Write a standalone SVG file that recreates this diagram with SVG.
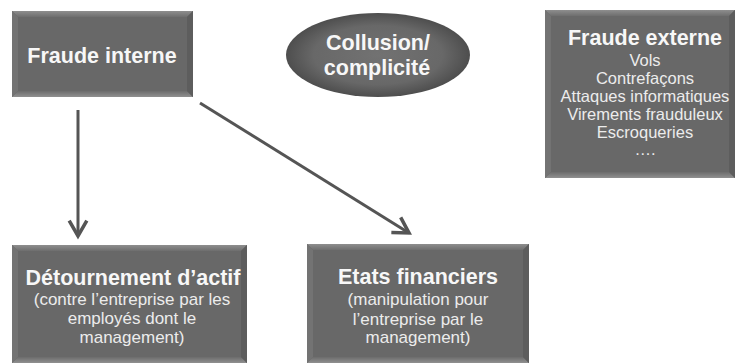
<svg xmlns="http://www.w3.org/2000/svg" width="736" height="363" viewBox="0 0 736 363">
<style>
.base{fill:#686868}
.bl{fill:#737373}
.br{fill:#5d5d5d}
.t{font-family:"Liberation Sans",Arial,sans-serif;text-anchor:middle}
.ti{font-weight:bold;font-size:21.5px;fill:#f7f7f7}
.s{font-size:17px;fill:#ececec}
.s2{font-size:16.5px;fill:#ececec}
.conn{stroke:#555;stroke-width:3;fill:none}
</style>
<defs>
<linearGradient id="gTop" x1="0" y1="0" x2="0" y2="1">
<stop offset="0" stop-color="#8e8e8e"/><stop offset="1" stop-color="#6e6e6e"/>
</linearGradient>
<linearGradient id="gBot" x1="0" y1="0" x2="0" y2="1">
<stop offset="0" stop-color="#6c6c6c"/><stop offset="1" stop-color="#909090"/>
</linearGradient>
<radialGradient id="gEll" cx="0.5" cy="0.5" r="0.5">
<stop offset="0" stop-color="#727272"/><stop offset="0.7" stop-color="#686868"/><stop offset="1" stop-color="#4e4e4e"/>
</radialGradient>
<marker id="arr" markerUnits="userSpaceOnUse" markerWidth="20" markerHeight="20" viewBox="0 0 16 17" refX="14" refY="8.5" orient="auto" overflow="visible">
<path d="M1,1 L14,8.5 L1,16" fill="none" stroke="#555" stroke-width="3" stroke-linejoin="miter"/>
</marker>
</defs>
<rect width="736" height="363" fill="#ffffff"/>

<g id="fraude-interne">
<rect class="base" x="12" y="11" width="181" height="86"/>
<polygon fill="url(#gTop)" points="12,11 193,11 187,17 18,17"/>
<polygon fill="url(#gBot)" points="18,91 187,91 193,97 12,97"/>
<polygon class="bl" points="12,11 18,17 18,91 12,97"/>
<polygon class="br" points="193,11 187,17 187,91 193,97"/>
<text class="t ti" x="102" y="63">Fraude interne</text>
</g>

<g id="collusion">
<ellipse cx="378" cy="55" rx="92" ry="42" fill="url(#gEll)"/>
<text class="t ti" x="378" y="50">Collusion/</text>
<text class="t ti" x="377" y="75">complicité</text>
</g>

<g id="fraude-externe">
<rect class="base" x="545" y="10" width="190" height="168"/>
<polygon fill="url(#gTop)" points="545,10 735,10 729,16 551,16"/>
<polygon fill="url(#gBot)" points="551,172 729,172 735,178 545,178"/>
<polygon class="bl" points="545,10 551,16 551,172 545,178"/>
<polygon class="br" points="735,10 729,16 729,172 735,178"/>
<text class="t ti" x="645" y="45">Fraude externe</text>
<text class="t s2" x="645" y="66">Vols</text>
<text class="t s2" x="645" y="84">Contrefaçons</text>
<text class="t s2" x="645" y="102">Attaques informatiques</text>
<text class="t s2" x="645" y="120">Virements frauduleux</text>
<text class="t s2" x="645" y="138">Escroqueries</text>
<text class="t s2" x="645" y="155">….</text>
</g>

<g id="detournement">
<rect class="base" x="12" y="245" width="235" height="118"/>
<polygon fill="url(#gTop)" points="12,245 247,245 241,251 18,251"/>
<polygon fill="url(#gBot)" points="18,357 241,357 247,363 12,363"/>
<polygon class="bl" points="12,245 18,251 18,357 12,363"/>
<polygon class="br" points="247,245 241,251 241,357 247,363"/>
<text class="t ti" x="133" y="285">Détournement d’actif</text>
<text class="t s" x="132" y="305">(contre l’entreprise par les</text>
<text class="t s" x="132" y="324">employés dont le</text>
<text class="t s" x="132" y="343">management)</text>
</g>

<g id="etats-financiers">
<rect class="base" x="307" y="244" width="222" height="119"/>
<polygon fill="url(#gTop)" points="307,244 529,244 523,250 313,250"/>
<polygon fill="url(#gBot)" points="313,357 523,357 529,363 307,363"/>
<polygon class="bl" points="307,244 313,250 313,357 307,363"/>
<polygon class="br" points="529,244 523,250 523,357 529,363"/>
<text class="t ti" x="418" y="284">Etats financiers</text>
<text class="t s" x="418" y="305">(manipulation pour</text>
<text class="t s" x="418" y="325">l’entreprise par le</text>
<text class="t s" x="418" y="343">management)</text>
</g>

<g id="connectors">
<line class="conn" x1="78" y1="110" x2="78" y2="236" marker-end="url(#arr)"/>
<line class="conn" x1="200" y1="103" x2="409" y2="233" marker-end="url(#arr)"/>
</g>
</svg>
